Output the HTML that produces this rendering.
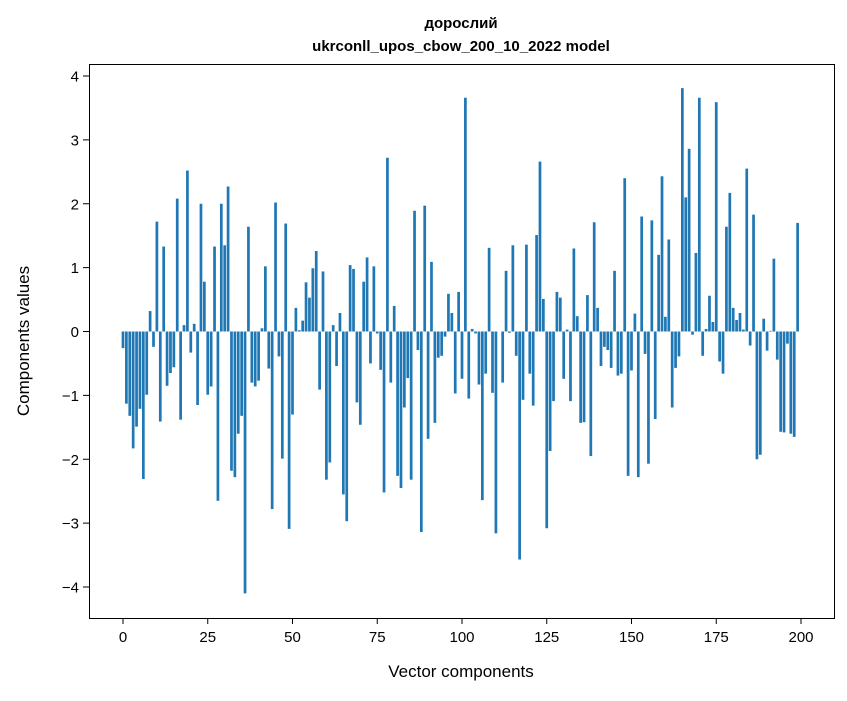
<!DOCTYPE html>
<html><head><meta charset="utf-8"><style>
body{margin:0;background:#fff;}
svg text{font-family:"Liberation Sans","DejaVu Sans",sans-serif;fill:#000;}
</style></head><body>
<svg id="chart" width="847" height="696" xmlns="http://www.w3.org/2000/svg">
<rect x="0" y="0" width="847" height="696" fill="#fff"/>
<text x="461" y="28" text-anchor="middle" font-size="15" font-weight="bold">дорослий</text>
<text x="461" y="51" text-anchor="middle" font-size="15" font-weight="bold">ukrconll_upos_cbow_200_10_2022 model</text>
<g id="bars"></g>
<g id="xticks"></g>
<g id="yticks"></g>
<rect x="89.5" y="64.5" width="745" height="554" fill="none" stroke="#000" stroke-width="1"/>
<text x="461" y="677" text-anchor="middle" font-size="17">Vector components</text>
<text transform="translate(29,341) rotate(-90)" text-anchor="middle" font-size="17">Components values</text>
</svg>
<script>
const values = [
-0.26,-1.13,-1.32,-1.83,-1.49,-1.21,-2.31,-0.99,0.32,-0.24,
1.72,-1.41,1.33,-0.85,-0.65,-0.56,2.08,-1.38,0.10,2.52,
-0.33,0.12,-1.15,2.0,0.78,-0.99,-0.86,1.33,-2.65,2.0,
1.35,2.27,-2.18,-2.28,-1.6,-1.32,-4.1,1.64,-0.8,-0.86,
-0.77,0.05,1.02,-0.58,-2.78,2.02,-0.39,-1.99,1.69,-3.09,
-1.30,0.37,0.02,0.17,0.77,0.53,0.99,1.26,-0.91,0.94,
-2.32,-2.05,0.10,-0.54,0.29,-2.55,-2.97,1.04,0.98,-1.11,
-1.46,0.78,1.16,-0.50,1.02,-0.03,-0.60,-2.52,2.72,-0.80,
0.40,-2.26,-2.45,-1.19,-0.73,-2.32,1.89,-0.29,-3.14,1.97,
-1.68,1.09,-1.43,-0.41,-0.38,-0.08,0.59,0.29,-0.97,0.62,
-0.74,3.66,-1.05,0.04,-0.03,-0.83,-2.64,-0.66,1.31,-0.96,
-3.16,0.0,-0.80,0.95,-0.02,1.35,-0.38,-3.57,-1.07,1.36,
-0.66,-1.16,1.51,2.66,0.51,-3.08,-1.87,-1.09,0.62,0.53,
-0.74,0.03,-1.09,1.30,0.24,-1.43,-1.42,0.57,-1.95,1.71,
0.37,-0.54,-0.24,-0.29,-0.57,0.95,-0.69,-0.66,2.40,-2.26,
-0.61,0.28,-2.28,1.80,-0.35,-2.07,1.74,-1.37,1.20,2.43,
0.23,1.44,-1.19,-0.57,-0.39,3.81,2.10,2.86,-0.05,1.23,
3.66,-0.38,0.04,0.56,0.15,3.59,-0.47,-0.66,1.64,2.17,
0.37,0.18,0.29,0.03,2.55,-0.22,1.83,-2.0,-1.93,0.20,
-0.30,0.01,1.14,-0.44,-1.57,-1.58,-0.19,-1.60,-1.65,1.70
];
const xTicks = [0,25,50,75,100,125,150,175,200];
const yTicks = [-4,-3,-2,-1,0,1,2,3,4];
const NS = "http://www.w3.org/2000/svg";
function xs(v){return 123 + v*3.39;}
function ys(v){return 331.5 - v*63.875;}
const bars = document.getElementById('bars');
values.forEach((v,i)=>{
  const r = document.createElementNS(NS,'rect');
  const y0 = ys(Math.max(v,0)), y1 = ys(Math.min(v,0));
  r.setAttribute('x', xs(i-0.4));
  r.setAttribute('y', y0);
  r.setAttribute('width', 0.8*3.39);
  r.setAttribute('height', Math.max(y1-y0,0));
  r.setAttribute('fill', '#1f77b4');
  
  
  bars.appendChild(r);
});
const xg = document.getElementById('xticks');
xTicks.forEach(t=>{
  const l = document.createElementNS(NS,'line');
  l.setAttribute('x1', xs(t)); l.setAttribute('x2', xs(t));
  l.setAttribute('y1', 618); l.setAttribute('y2', 624);
  l.setAttribute('stroke', '#000');
  
  
  xg.appendChild(l);
  const tx = document.createElementNS(NS,'text');
  tx.setAttribute('x', xs(t)); tx.setAttribute('y', 642);
  tx.setAttribute('text-anchor', 'middle'); tx.setAttribute('font-size', '15');
  tx.textContent = t;
  
  
  xg.appendChild(tx);
});
const yg = document.getElementById('yticks');
yTicks.forEach(t=>{
  const l = document.createElementNS(NS,'line');
  l.setAttribute('x1', 83); l.setAttribute('x2', 89);
  l.setAttribute('y1', ys(t)); l.setAttribute('y2', ys(t));
  l.setAttribute('stroke', '#000');
  
  
  yg.appendChild(l);
  const tx = document.createElementNS(NS,'text');
  tx.setAttribute('x', 79); tx.setAttribute('y', ys(t)+5.5);
  tx.setAttribute('text-anchor', 'end'); tx.setAttribute('font-size', '15');
  tx.textContent = t < 0 ? '\u2212' + Math.abs(t) : String(t);
  
  
  yg.appendChild(tx);
});
</script>
</body></html>
